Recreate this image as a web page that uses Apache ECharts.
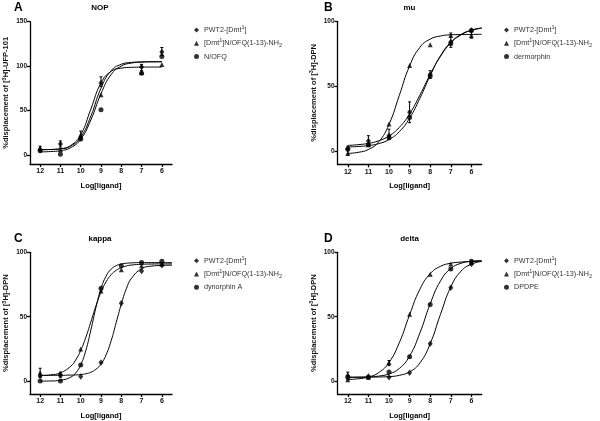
<!DOCTYPE html>
<html><head><meta charset="utf-8">
<script src="https://cdn.jsdelivr.net/npm/echarts@6/dist/echarts.min.js"></script>
<style>html,body{margin:0;padding:0;background:#fff}#c{width:600px;height:421px}</style>
</head><body><div id="c"></div>
<script>
// ---------- DATA ----------
const doseTicks = [12, 11, 10, 9, 8, 7, 6];
const doseX = [12, 11, 10, 9, 8, 7, 6];
const yTicksA = [0, 50, 100, 150];
const yTicks = [0, 50, 100];

const nameP = 'PWT2-[Dmt1]';
const nameD = '[Dmt1]N/OFQ(1-13)-NH2';
const refNames = ['N/OFQ', 'dermorphin', 'dynorphin A', 'DPDPE'];
const panelTitles = ['NOP', 'mu', 'kappa', 'delta'];
const panelLetters = ['A', 'B', 'C', 'D'];
const yNames = ['%displacement of [{sup|3}H]-UFP-101', '%displacement of [{sup|3}H]-DPN', '%displacement of [{sup|3}H]-DPN', '%displacement of [{sup|3}H]-DPN'];

// measured means (x = doseX)
const pwt2A = [6, 12.5, 19, 81, null, 99, 116];
const dmtA  = [8, 6, 23, 68, null, 93, 102];
const nofqA = [5, 1, 18, 51, null, 92, 111];

const pwt2B = [2, 8, 12, 30, 59, 84, 93];
const dmtB  = [-1.5, 5, 21, 66, 82, 89, 89];
const dermB = [1.5, 5, 10.5, 26, 58, 83, 93];

const pwt2C = [4, 5, 3.5, 14.5, 60.5, 85.5, 90];
const dmtC  = [6.5, 5.5, 25, 70, 86.5, 89.5, 91];
const dynC  = [0, 0, 12.5, 72, 89.5, 92, 93];

const pwt2D  = [4, 3.5, 3, 6.5, 29, 72.5, 91];
const dmtD   = [1, 3, 14.5, 52, 83, 91, 92];
const dpdpeD = [3, 3, 7, 19, 59.5, 87, 93];

// error bars [x, low, high]
const errA = [[12, 4, 10], [11, 9, 16], [10, 19, 27], [9, 77, 88], [7, 95, 102], [6, 112, 121]];
const errB = [[12, -3, 4], [11, 5, 12], [10, 9, 17], [9, 22, 38], [8, 56, 62], [7, 80, 91], [6, 87, 92]];
const errC = [[12, 3, 10], [11, 3, 7]];
const errD = [[12, 1, 7], [10, 12, 16]];

// fitted curves
const curveXA = [12, 11.5, 11, 10.5, 10, 9.5, 9, 8.5, 8, 7.5, 7, 6.5, 6];
const pwt2AFit = [6.1, 6.3, 7.1, 10.1, 20.1, 43.9, 75.3, 94.9, 102.1, 104.2, 104.8, 105.0, 105.0];
const dmtAFit  = [6.1, 6.3, 7.1, 10.7, 23.0, 51.8, 81.1, 94.2, 97.8, 98.7, 98.9, 99.0, 99.0];
const nofqAFit = [3.6, 4.0, 5.0, 8.3, 17.9, 39.5, 69.0, 90.6, 100.1, 103.5, 104.5, 104.9, 105.0];

const curveXB = [12, 11.5, 11, 10.5, 10, 9.5, 9, 8.5, 8, 7.5, 7, 6.5, 6, 5.5];
const pwt2BFit = [4.5, 5.1, 6.1, 8.1, 11.8, 18.4, 28.8, 43.2, 59.1, 73.1, 83.3, 89.6, 93.1, 95.0];
const dmtBFit  = [-1.6, -0.8, 1.4, 7.3, 20.7, 43.0, 65.7, 80.0, 86.3, 88.7, 89.6, 89.8, 89.9, 90.0];
const dermBFit = [3.3, 3.7, 4.4, 5.9, 9.1, 15.1, 25.5, 40.8, 58.2, 73.5, 83.9, 89.9, 93.1, 94.6];

const curveXC = [12, 11.5, 11, 10.5, 10.25, 10, 9.75, 9.5, 9.25, 9, 8.75, 8.5, 8.25, 8, 7.75, 7.5, 7, 6.5, 6, 5.5];
const pwt2CFit = [4.5, 4.5, 4.5, 4.7, 4.8, 5.1, 5.7, 6.9, 9.2, 13.3, 20.4, 31.3, 45.5, 59.8, 71.7, 79.7, 87.2, 89.3, 89.8, 90.0];
const dmtCFit  = [4.3, 4.8, 6.5, 11.4, 16.4, 23.8, 33.9, 46.0, 58.3, 69.0, 77.1, 82.6, 86.0, 88.1, 89.4, 90.1, 90.7, 90.9, 91.0, 91.0];
const dynCFit  = [0.0, 0.1, 0.7, 3.0, 6.3, 12.7, 23.7, 39.6, 57.2, 71.8, 81.5, 86.9, 89.6, 90.9, 91.5, 91.8, 92.0, 92.0, 92.0, 92.0];

const curveXD = [12, 11.5, 11, 10.5, 10, 9.5, 9, 8.5, 8, 7.5, 7, 6.5, 6, 5.5];
const pwt2DFit  = [3.0, 3.0, 3.1, 3.2, 3.5, 4.5, 7.2, 14.1, 29.1, 51.9, 73.1, 85.4, 90.8, 92.9];
const dmtDFit   = [1.3, 1.8, 3.2, 6.6, 14.5, 29.8, 51.5, 71.3, 83.4, 89.1, 91.5, 92.4, 92.8, 92.9];
const dpdpeDFit = [3.0, 3.1, 3.3, 3.9, 5.6, 9.8, 19.5, 37.4, 60.0, 77.8, 87.4, 91.5, 93.1, 93.7];

// ---------- BUILD ----------
const FONT = "'Liberation Sans', Arial, sans-serif";
const panels = [
  {yMax: 150, yT: yTicksA, pts: [pwt2A, dmtA, nofqA], err: errA, cx: curveXA, fits: [pwt2AFit, dmtAFit, nofqAFit]},
  {yMax: 100, yT: yTicks, pts: [pwt2B, dmtB, dermB], err: errB, cx: curveXB, fits: [pwt2BFit, dmtBFit, dermBFit]},
  {yMax: 100, yT: yTicks, pts: [pwt2C, dmtC, dynC], err: errC, cx: curveXC, fits: [pwt2CFit, dmtCFit, dynCFit]},
  {yMax: 100, yT: yTicks, pts: [pwt2D, dmtD, dpdpeD], err: errD, cx: curveXD, fits: [pwt2DFit, dmtDFit, dpdpeDFit]}
];
const gridPos = [
  {left: 27.5, top: 21.7, width: 144.5, height: 142.3},
  {left: 337.5, top: 21.3, width: 144.2, height: 143},
  {left: 27.5, top: 252.3, width: 144.5, height: 142},
  {left: 337.5, top: 252.3, width: 144.2, height: 142}
];
const legendPos = [{left: 194, top: 24.5}, {left: 504, top: 24.5}, {left: 194, top: 255.2}, {left: 504, top: 255.2}];
const titlePos = [{lx: 14, nx: 100, y: 8}, {lx: 324, nx: 409.5, y: 8}, {lx: 14, nx: 100, y: 238.5}, {lx: 324, nx: 409.5, y: 238.5}];
const symbols = ['diamond', 'triangle', 'circle'];

const axisLineStyle = {color: '#000', width: 1.3};
const richSup = {
  sup: {fontSize: 5.5, verticalAlign: 'top', lineHeight: 6, fontFamily: FONT},
  sub: {fontSize: 5.5, verticalAlign: 'bottom', lineHeight: 6, fontFamily: FONT}
};

function errRender(params, api) {
  const x = api.value(0), lo = api.value(1), hi = api.value(2);
  const a = api.coord([x, lo]), b = api.coord([x, hi]);
  const st = {stroke: '#000', lineWidth: 1};
  return {type: 'group', children: [
    {type: 'line', shape: {x1: a[0], y1: a[1], x2: b[0], y2: b[1]}, style: st},
    {type: 'line', shape: {x1: a[0] - 1.5, y1: a[1], x2: a[0] + 1.5, y2: a[1]}, style: st},
    {type: 'line', shape: {x1: b[0] - 1.5, y1: b[1], x2: b[0] + 1.5, y2: b[1]}, style: st}
  ]};
}
function fmtName(n) {
  if (n === nameP) return 'PWT2-[Dmt{sup|1}]';
  if (n === nameD) return '[Dmt{sup|1}]N/OFQ(1-13)-NH{sub|2}';
  return n;
}

const grid = [], xAxis = [], yAxis = [], series = [], legend = [], graphic = [];
panels.forEach((p, i) => {
  grid.push(Object.assign({containLabel: false}, gridPos[i]));
  xAxis.push({
    gridIndex: i, type: 'value', inverse: true, min: 5.5, max: 12.5,
    axisLine: {show: true, onZero: false, lineStyle: axisLineStyle},
    axisTick: {show: true, customValues: doseTicks, length: 3, lineStyle: axisLineStyle},
    axisLabel: {show: true, customValues: doseTicks, fontSize: 7, fontWeight: 'bold', color: '#111', margin: 4, fontFamily: FONT},
    splitLine: {show: false},
    name: 'Log[ligand]', nameLocation: 'middle', nameGap: 18,
    nameTextStyle: {fontSize: 7.5, fontWeight: 'bold', color: '#000', fontFamily: FONT}
  });
  yAxis.push({
    gridIndex: i, type: 'value', min: -10, max: p.yMax,
    axisLine: {show: true, onZero: false, lineStyle: axisLineStyle},
    axisTick: {show: true, customValues: p.yT, length: 3, lineStyle: axisLineStyle},
    axisLabel: {show: true, customValues: p.yT, fontSize: 6.5, fontWeight: 'bold', color: '#111', margin: 3, fontFamily: FONT},
    splitLine: {show: false},
    name: yNames[i], nameLocation: 'middle', nameGap: 19,
    nameTextStyle: {fontSize: 7.5, fontWeight: 'bold', color: '#111', fontFamily: FONT, lineHeight: 10, rich: richSup}
  });
  const names = [nameP, nameD, refNames[i]];
  p.fits.forEach((f, k) => {
    series.push({
      type: 'line', name: 'fit' + i + k, xAxisIndex: i, yAxisIndex: i,
      data: p.cx.map((x, j) => [x, f[j]]),
      smooth: 0.5, showSymbol: false, symbol: 'none',
      lineStyle: {color: '#000', width: 1}, silent: true, z: 2
    });
  });
  series.push({
    type: 'custom', name: 'err' + i, xAxisIndex: i, yAxisIndex: i,
    data: p.err, renderItem: errRender, encode: {x: 0, y: [1, 2]}, silent: true, z: 3
  });
  p.pts.forEach((vals, k) => {
    series.push({
      type: 'scatter', name: names[k], xAxisIndex: i, yAxisIndex: i,
      data: doseX.map((x, j) => vals[j] == null ? null : [x, vals[j]]).filter(d => d),
      symbol: symbols[k], symbolSize: k === 0 ? [5, 6.5] : 5,
      itemStyle: {color: '#000'}, z: 4
    });
  });
  legend.push(Object.assign({
    orient: 'vertical', itemWidth: 5, itemHeight: 5, itemGap: 2.3, selectedMode: false,
    padding: 0,
    data: names.map((n, k) => ({name: n, icon: symbols[k]})),
    formatter: fmtName,
    textStyle: {fontSize: 7.2, color: '#333', fontFamily: FONT, lineHeight: 11, rich: richSup}
  }, legendPos[i]));
  graphic.push({type: 'text', x: titlePos[i].lx, y: titlePos[i].y,
    style: {text: panelLetters[i], font: 'bold 12px ' + FONT, fill: '#000', textVerticalAlign: 'middle', verticalAlign: 'middle'}});
  graphic.push({type: 'text', x: titlePos[i].nx, y: titlePos[i].y,
    style: {text: panelTitles[i], font: 'bold 8px ' + FONT, fill: '#000', textAlign: 'center', align: 'center', textVerticalAlign: 'middle', verticalAlign: 'middle'}});
});

const chart = echarts.init(document.getElementById('c'), null, {renderer: 'canvas'});
chart.setOption({
  animation: false, backgroundColor: '#fff',
  grid, xAxis, yAxis, series, legend, graphic
});
</script></body></html>
